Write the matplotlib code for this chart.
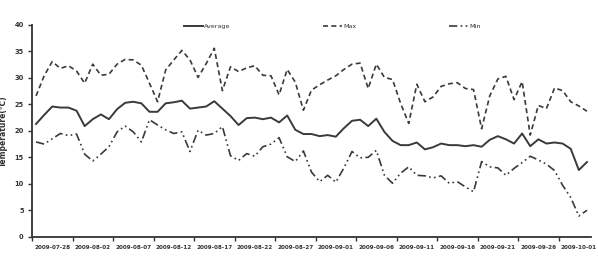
import matplotlib
matplotlib.use("Agg")
import matplotlib.pyplot as plt
import numpy as np
import pandas as pd

dates = pd.date_range("2009-07-26", "2009-10-02", freq="D")

avg_temp = [21.3, 23.0, 24.6, 24.4, 24.4, 23.8, 20.9, 22.2, 23.1, 22.2,
            24.1, 25.3, 25.5, 25.2, 23.6, 23.6, 25.2, 25.4, 25.7, 24.2,
            24.4, 24.6, 25.6, 24.2, 22.8, 21.1, 22.4, 22.5, 22.2, 22.5,
            21.6, 22.9, 20.2, 19.4, 19.4, 19.0, 19.2, 18.9, 20.5, 21.9,
            22.1, 20.9, 22.3, 19.8, 18.1, 17.3, 17.3, 17.8, 16.5, 16.9,
            17.6, 17.3, 17.3, 17.1, 17.3, 17.0, 18.3, 19.0, 18.4, 17.6,
            19.5, 17.1, 18.4, 17.6, 17.8, 17.6, 16.6, 12.6, 14.1]

max_temp = [26.6, 30.4, 33.1, 31.8, 32.3, 31.3, 29.0, 32.6, 30.5, 30.7,
            32.6, 33.5, 33.4, 32.4, 29.0, 25.5, 31.5, 33.4, 35.2, 33.4,
            30.1, 32.7, 35.6, 27.6, 32.1, 31.2, 31.9, 32.3, 30.5, 30.4,
            26.8, 31.6, 29.2, 23.9, 27.7, 28.7, 29.6, 30.4, 31.6, 32.6,
            32.8, 28.0, 32.6, 30.1, 29.7, 25.2, 21.4, 28.8, 25.5, 26.4,
            28.4, 28.9, 29.1, 28.0, 27.8, 20.4, 26.6, 29.8, 30.3, 25.9,
            29.3, 19.2, 24.8, 24.2, 28.1, 27.6, 25.5, 24.7, 23.7]

min_temp = [17.9, 17.5, 18.5, 19.5, 19.1, 19.4, 15.6, 14.3, 15.6, 17.0,
            19.8, 20.9, 19.8, 17.9, 22.1, 21.1, 20.2, 19.5, 19.8, 16.1,
            20.1, 19.2, 19.5, 20.8, 15.3, 14.4, 15.7, 15.2, 17.0, 17.5,
            18.7, 15.1, 14.2, 16.2, 12.2, 10.4, 11.6, 10.3, 13.0, 16.1,
            14.9, 15.0, 16.3, 11.6, 10.1, 12.0, 13.2, 11.6, 11.5, 11.1,
            11.5, 10.1, 10.4, 9.4, 8.5, 14.2, 13.2, 13.0, 11.6, 12.9,
            14.0, 15.2, 14.5, 13.7, 12.5, 9.7, 7.4, 3.9, 5.0]

y_ticks = [0, 5, 10, 15, 20, 25, 30, 35, 40]

W, H = 598, 261
fig = plt.figure(figsize=(W / 100, H / 100), dpi=100)
ax = fig.add_axes([32 / W, 1 - 236.7 / H, (591 - 32) / W, (236.7 - 25) / H])

x = np.arange(len(dates))
col = "#3a3a3a"
ax.plot(x, avg_temp, color=col, lw=1.4, label="Average")
ax.plot(x, max_temp, color=col, lw=1.2, dashes=(3, 2), label="Max")
ax.plot(x, min_temp, color=col, lw=1.2, dashes=(5, 2, 1, 2, 1, 2), label="Min")

ax.set_xlim(-0.5, len(dates) - 0.5)
ax.set_ylim(0, 40)
ax.set_yticks(y_ticks)
ax.set_yticklabels([str(v) for v in y_ticks], fontsize=4.8, fontweight="bold", color="#333333")

label_pos = x[2::5]
ax.set_xticks(label_pos)
ax.set_xticklabels([d.strftime("%Y-%m-%d") for d in dates[2::5]],
                   fontsize=4.05, fontweight="bold", color="#333333")
ax.tick_params(axis="x", which="major", length=0, pad=6)
ax.set_xticks(np.arange(-0.5, len(dates), 5), minor=True)
ax.tick_params(axis="x", which="minor", length=3, width=1.0, direction="out", color="#333333")
ax.tick_params(axis="y", length=3, width=1.0, pad=3, color="#333333")

for s in ["top", "right"]:
    ax.spines[s].set_visible(False)
for s in ["left", "bottom"]:
    ax.spines[s].set_linewidth(1.3)
    ax.spines[s].set_color("#333333")

ax.set_ylabel("Temperature(℃)", fontsize=5.5, fontweight="bold", color="#333333")
ax.yaxis.set_label_coords(-0.043, 0.5)

fig.legend(loc="center left", bbox_to_anchor=(184 / W, 1 - 26 / H), ncol=3, frameon=False,
           fontsize=4.6, handlelength=3.0, handletextpad=0.15, columnspacing=14.5,
           borderaxespad=0, borderpad=0, labelcolor="#333333")

fig.savefig("out.png", dpi=100)
